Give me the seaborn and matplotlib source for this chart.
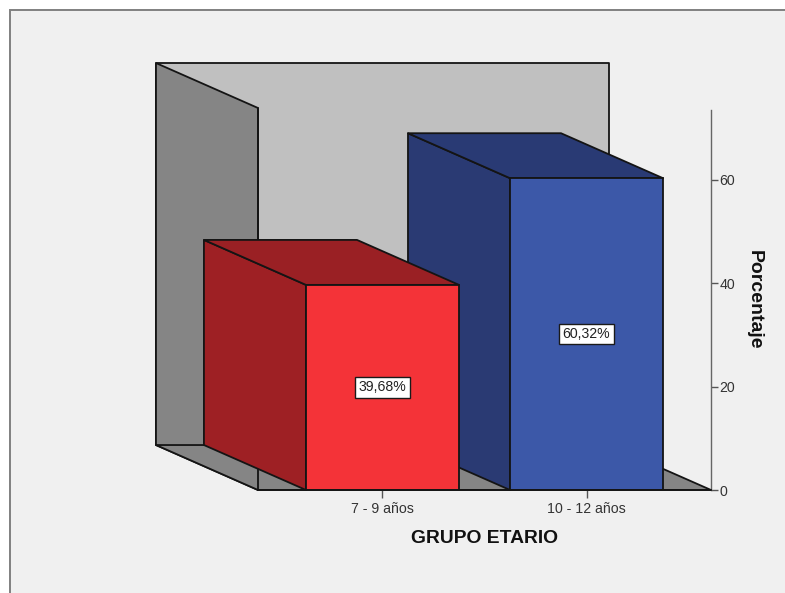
import matplotlib
matplotlib.use("Agg")
import matplotlib.pyplot as plt
from matplotlib.patches import Polygon, Rectangle
import pandas as pd
import seaborn as sns

# Data
grupos = ["7 - 9 años", "10 - 12 años"]
porcentajes = [39.68, 60.32]
etiquetas = ["39,68%", "60,32%"]
marcas_y = [0, 20, 40, 60]

# Colours per bar: front, side, top
frente = ["#F43338", "#3C58A8"]
lateral = ["#9E2024", "#2A3A73"]
superior = ["#9A2024", "#293A74"]

W, H = 785, 593
FONDO = "#F0F0F0"
PARED_FONDO = "#C0C0C0"
PARED_GRIS = "#858585"
BORDE = "#141414"

sns.set_theme(style="white")
plt.rcParams["font.family"] = ["Liberation Sans", "DejaVu Sans"]

fig = plt.figure(figsize=(W / 100, H / 100), dpi=100, facecolor="white")
fig.add_artist(Rectangle((10 / W, -0.05), 1, (H - 10) / H + 0.05,
                         transform=fig.transFigure, facecolor=FONDO,
                         edgecolor="#808080", linewidth=1.4, zorder=-5))

ax = fig.add_axes([258 / W, (H - 490) / H, (711 - 258) / W, (490 - 108) / H])
ax.patch.set_alpha(0)

df = pd.DataFrame({"grupo": grupos, "pct": porcentajes})
sns.barplot(data=df, x="grupo", y="pct", hue="grupo", palette=frente,
            saturation=1, width=0.75, edgecolor=BORDE, linewidth=1.3,
            legend=False, dodge=False, ax=ax)

x0, x1 = -0.61, 1.61
y_max = 73.9
ax.set_xlim(x0, x1)
ax.set_ylim(0, y_max)
ANCHO = 0.75
DX, DY = 0.5, 8.7  # oblique offset of the depth axis


def cara(puntos, color, z):
    ax.add_patch(Polygon(puntos, closed=True, facecolor=color, edgecolor=BORDE,
                         linewidth=1.3, clip_on=False, zorder=z,
                         joinstyle="round"))


# Room: back wall, left wall, floor, then the wall's front edge over the floor
cara([(x0 - DX, DY), (x1 - DX, DY), (x1 - DX, y_max + DY), (x0 - DX, y_max + DY)],
     PARED_FONDO, 0.2)
cara([(x0, 0), (x0, y_max), (x0 - DX, y_max + DY), (x0 - DX, DY)], PARED_GRIS, 0.3)
cara([(x0, 0), (x1, 0), (x1 - DX, DY), (x0 - DX, DY)], PARED_GRIS, 0.4)
ax.plot([x0, x0], [0, y_max], color=BORDE, linewidth=1.3, clip_on=False, zorder=0.5)

# Bars are painted back to front, so the red block overlaps the blue one
orden_z = {1: 1.0, 0: 2.0}
for i, barra in enumerate(ax.patches[:len(grupos)]):
    v = porcentajes[i]
    izq, der = i - ANCHO / 2, i + ANCHO / 2
    z = orden_z[i]
    cara([(izq, 0), (izq, v), (izq - DX, v + DY), (izq - DX, DY)], lateral[i], z)
    cara([(izq, v), (der, v), (der - DX, v + DY), (izq - DX, v + DY)], superior[i], z + 0.1)
    barra.set_zorder(z + 0.2)
    ax.text(i, v / 2, etiquetas[i], ha="center", va="center", fontsize=10.2,
            color="#222222", zorder=5,
            bbox=dict(boxstyle="square,pad=0.24", facecolor="white",
                      edgecolor="#1a1a1a", linewidth=1.0))

# Axes
ax.yaxis.tick_right()
ax.yaxis.set_label_position("right")
ax.set_yticks(marcas_y)
ax.tick_params(axis="y", length=5, width=1, color="#555555", pad=1,
               labelsize=10.2, labelcolor="#333333", right=True, left=False)
ax.tick_params(axis="x", length=6, width=1, color="#555555", pad=2.5,
               labelsize=10.2, labelcolor="#333333", bottom=True)
for lado in ("top", "left"):
    ax.spines[lado].set_visible(False)
ax.spines["right"].set_color("#666666")
ax.spines["right"].set_linewidth(1)
ax.spines["right"].set_bounds(0, 73.5)
ax.spines["bottom"].set_color(BORDE)
ax.spines["bottom"].set_linewidth(1.3)
ax.spines["bottom"].set_zorder(6)

ax.set_xlabel("GRUPO ETARIO", fontsize=13.9, fontweight="bold", color="#111111", labelpad=10.5)
ax.set_ylabel("")
fig.text(754 / W, (H - 300) / H, "Porcentaje", rotation=270, ha="center", va="center",
         fontsize=14, fontweight="bold", color="#111111")

fig.savefig("out.png", dpi=100, facecolor=fig.get_facecolor())
